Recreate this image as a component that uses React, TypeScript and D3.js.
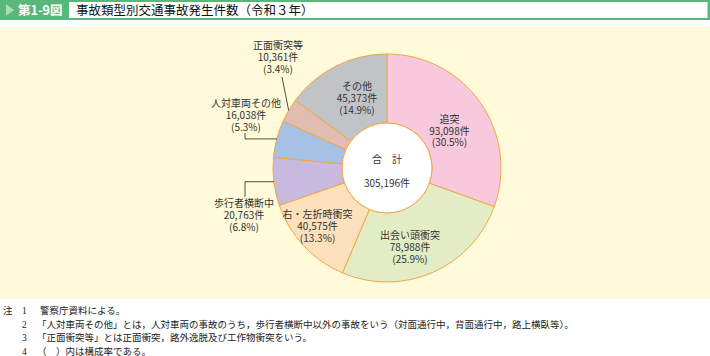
import React from "react";
import * as d3 from "d3";

const categories = ["追突", "出会い頭衝突", "右・左折時衝突", "歩行者横断中", "人対車両その他", "正面衝突等", "その他"];
const counts = [93098, 78988, 40575, 20763, 16038, 10361, 45373];
const countLabels = ["93,098件", "78,988件", "40,575件", "20,763件", "16,038件", "10,361件", "45,373件"];
const percentLabels = ["(30.5%)", "(25.9%)", "(13.3%)", "(6.8%)", "(5.3%)", "(3.4%)", "(14.9%)"];
const totalLabel = "305,196件";
const notes = [
  ["注", "1", "警察庁資料による。"],
  ["", "2", "「人対車両その他」とは，人対車両の事故のうち，歩行者横断中以外の事故をいう（対面通行中，背面通行中，路上横臥等）。"],
  ["", "3", "「正面衝突等」とは正面衝突，路外逸脱及び工作物衝突をいう。"],
  ["", "4", "（　）内は構成率である。"],
];

const colors = ["#f8c8dd", "#e2edc6", "#fde1bd", "#c8b9df", "#a5c1e6", "#e0bdb0", "#c1c4c7"];
const FONT = "'Noto Sans CJK JP', 'Noto Sans', sans-serif";
const SERIF = "'Liberation Serif', 'Noto Sans CJK JP', serif";

export default function App() {
  const cx = 387, cy = 168, rOuter = 114, rInner = 45;
  const pie = d3.pie<number>().sort(null).value((d) => d)(counts);
  const arc = d3.arc<d3.PieArcDatum<number>>().innerRadius(rInner).outerRadius(rOuter);
  const labelArc = d3.arc<d3.PieArcDatum<number>>().innerRadius(80).outerRadius(80);
  // label style nudges (relative to centroid) for inside labels
  const nudge: Record<number, [number, number]> = { 0: [-3, 9], 1: [-9, 6], 2: [-11, 4], 6: [6, 2] };
  const inside = [0, 1, 2, 6];
  const lh = 11.8;

  const outerPt = (i: number, r: number) => {
    const a = (pie[i].startAngle + pie[i].endAngle) / 2;
    return [cx + r * Math.sin(a), cy - r * Math.cos(a)];
  };

  const textBlock = (i: number, x: number, yTop: number) => (
    <g key={"t" + i} fontSize={10} fill="#333" fontFamily={FONT} textAnchor="middle">
      <text x={x} y={yTop}>{categories[i]}</text>
      <text x={x} y={yTop + lh}>{countLabels[i]}</text>
      <text x={x} y={yTop + 2 * lh}>{percentLabels[i]}</text>
    </g>
  );

  const p3 = outerPt(3, rOuter);
  const p4 = outerPt(4, rOuter);
  const p5 = outerPt(5, rOuter);

  return (
    <svg width={710} height={356} style={{ position: "absolute", left: 0, top: 0 }}>
      <rect x={0} y={0} width={710} height={356} fill="#fff" />
      {/* header */}
      <rect x={0} y={0} width={710} height={20} fill="#57b87a" />
      <rect x={69} y={2} width={638.5} height={16} fill="#fff" />
      <path d="M6,4 L14,10 L6,16 Z" fill="#a9dcb5" />
      <text x={18} y={15} fontSize={12.5} fontWeight="bold" fill="#fff" fontFamily={FONT}>第1-9図</text>
      <text x={76} y={15} fontSize={12.5} fill="#111" fontFamily={FONT}>事故類型別交通事故発生件数（令和３年）</text>
      {/* panel */}
      <rect x={0} y={27} width={710} height={272} fill="#fffad9" />
      {/* pie */}
      <g transform={`translate(${cx},${cy})`}>
        {pie.map((d, i) => (
          <path key={i} d={arc(d) || ""} fill={colors[i]} stroke="#f2a745" strokeWidth={1} />
        ))}
        <circle r={rInner} fill="#fff" stroke="#f2a745" strokeWidth={1} />
      </g>
      <text x={cx} y={163} textAnchor="middle" fontSize={10} fill="#333" fontFamily={FONT}>合　計</text>
      <text x={cx} y={187} textAnchor="middle" fontSize={10} fill="#333" fontFamily={FONT}>{totalLabel}</text>
      {inside.map((i) => {
        const [lx, ly] = labelArc.centroid(pie[i]);
        const [nx, ny] = nudge[i] || [0, 0];
        return textBlock(i, cx + lx + nx, cy + ly + ny - lh + 3.5);
      })}
      {/* leader lines */}
      <polyline points={`${p3[0]},${p3[1]} 245,${p3[1]} 245,197`} fill="none" stroke="#222" strokeWidth={0.8} />
      <polyline points={`${p4[0]},${p4[1]} 245,${p4[1]} 245,133`} fill="none" stroke="#222" strokeWidth={0.8} />
      <line x1={p5[0]} y1={p5[1]} x2={282} y2={77} stroke="#222" strokeWidth={0.8} />
      {textBlock(3, 244, 207)}
      {textBlock(4, 246, 107)}
      {textBlock(5, 278, 49)}
      {/* notes */}
      {notes.map((n, i) => (
        <g key={"n" + i} fontFamily={SERIF} fontSize={9.5} fill="#222">
          <text x={3} y={314 + i * 13.7}>{n[0]}</text>
          <text x={22} y={314 + i * 13.7}>{n[1]}</text>
          <text x={i === 0 ? 40 : 37} y={314 + i * 13.7}>{n[2]}</text>
        </g>
      ))}
    </svg>
  );
}
